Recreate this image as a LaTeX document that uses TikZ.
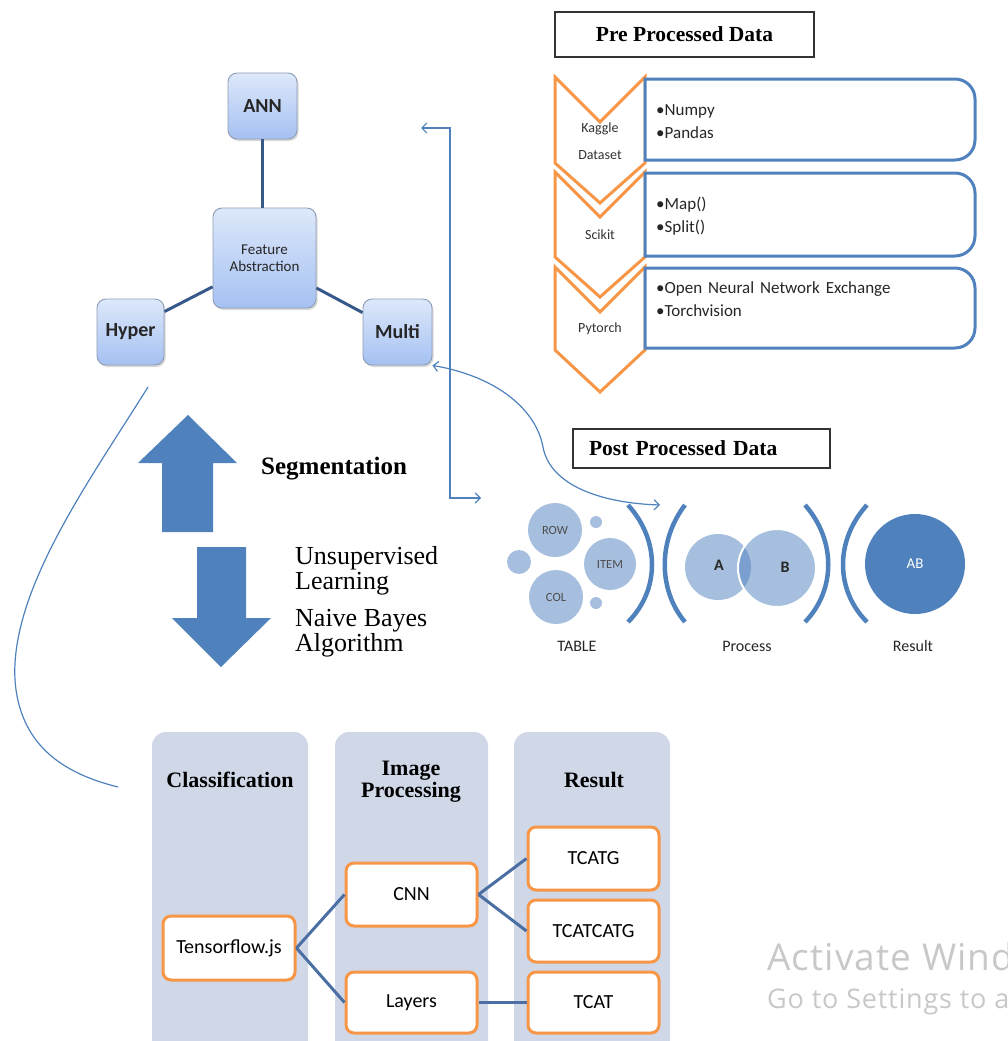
\documentclass[tikz,border=0pt]{standalone}
\usepackage{fontspec}
\setmainfont{Liberation Serif}
\newfontfamily\carl{Carlito}
\newfontfamily\osans[LetterSpace=3]{Open Sans}
\usetikzlibrary{arrows.meta,shadows}
\definecolor{gtop}{HTML}{DDE8FA}
\definecolor{gbot}{HTML}{A5C1F2}
\definecolor{boxedge}{HTML}{8E9DB6}
\definecolor{linkc}{HTML}{37598A}
\definecolor{orng}{HTML}{F79646}
\definecolor{blu}{HTML}{4F81BD}
\definecolor{lb}{HTML}{A7BFDE}
\definecolor{midb}{HTML}{7B9FCF}
\definecolor{colf}{HTML}{D0D8E8}
\definecolor{linkb}{HTML}{4B6FA3}
\definecolor{wm}{HTML}{C8C8C8}
\begin{document}
\begin{tikzpicture}[x=1pt,y=-1pt,
  fbox/.style={draw=boxedge, line width=0.9pt, rounded corners=9pt, top color=gtop, bottom color=gbot,
    drop shadow={shadow xshift=1.5pt, shadow yshift=-2pt, opacity=0.3}, inner sep=0pt,
    font=\carl\bfseries\fontsize{20}{22}\selectfont, text=black!85},
  link/.style={draw=linkc, line width=3pt},
  chev/.style={draw=orng, line width=3pt, line join=miter, fill=white},
  bluebox/.style={draw=blu, line width=3pt, fill=white},
  chevlab/.style={font=\carl\fontsize{14}{16}\selectfont, text=black!80},
  bul/.style={anchor=base west, inner sep=0pt, font=\carl\fontsize{17}{19}\selectfont, text=black!85},
  titlebox/.style={draw=black!80, line width=2pt, fill=white, inner sep=0pt, font=\bfseries\fontsize{21.5}{24}\selectfont},
  thinc/.style={draw=blu, line width=1.2pt},
  >={Straight Barb[length=5pt,width=10pt]},
  circ/.style={circle, fill=lb, inner sep=0pt, font=\carl\fontsize{12.5}{14}\selectfont, text=black!70},
  paren/.style={draw=blu, line width=4.5pt},
  lab/.style={font=\carl\fontsize{16}{18}\selectfont, text=black!85},
  bigtxt/.style={anchor=base west, inner sep=0pt, align=left, font=\fontsize{26}{24}\selectfont},
  coltitle/.style={font=\bfseries\fontsize{22}{23}\selectfont, align=center},
  obox/.style={draw=orng, line width=3pt, fill=white, rounded corners=8pt, inner sep=0pt,
    font=\carl\fontsize{20}{22}\selectfont},
  blink/.style={draw=linkb, line width=3pt}
]
\useasboundingbox (0,0) rectangle (1008,1041);
\clip (0,0) rectangle (1008,1041);

% ---------- feature cluster ----------
\node[fbox, minimum width=69, minimum height=66] (ann) at (262.5,106) {ANN};
\node[fbox, minimum width=103, minimum height=100, align=center,
      font=\carl\fontsize{15}{17}\selectfont] (fa) at (264.5,258) {Feature\\Abstraction};
\node[fbox, minimum width=67, minimum height=66] (hyper) at (130.5,332) {Hyper};
\node[fbox, minimum width=69, minimum height=66] (multi) at (397.5,332) {Multi};
\draw[link] (ann.south) -- (ann.south |- fa.north);
\draw[link] (fa.209) -- (hyper.31);
\draw[link] (fa.330) -- (multi.151);

% ---------- pre processed data ----------
\node[titlebox, minimum width=259, minimum height=45] (pre) at (684.5,34.5) {Pre Processed Data};

\draw[chev] (555,77) -- (600,122) -- (645,77) -- (645,163) -- (600,203) -- (555,163) -- cycle;
\draw[chev] (555,172) -- (600,217) -- (645,172) -- (645,257) -- (600,297) -- (555,257) -- cycle;
\draw[chev] (555,267) -- (600,312) -- (645,267) -- (645,350) -- (600,392) -- (555,350) -- cycle;

\draw[bluebox] (645,79) -- (955,79) arc[start angle=270,end angle=360,radius=20] -- (975,140)
   arc[start angle=0,end angle=90,radius=20] -- (645,160) -- cycle;
\draw[bluebox] (645,173) -- (955,173) arc[start angle=270,end angle=360,radius=20] -- (975,236)
   arc[start angle=0,end angle=90,radius=20] -- (645,256) -- cycle;
\draw[bluebox] (645,268) -- (955,268) arc[start angle=270,end angle=360,radius=20] -- (975,328)
   arc[start angle=0,end angle=90,radius=20] -- (645,348) -- cycle;

\node[chevlab] (kag) at (600,129) {Kaggle};
\node[chevlab] (dat) at (600,155) {Dataset};
\node[chevlab] (sci) at (600,235) {Scikit};
\node[chevlab] (pyt) at (600,329) {Pytorch};

\node[bul] (b1) at (656,115) {•Numpy};
\node[bul] (b2) at (656,138) {•Pandas};
\node[bul] (b3) at (656,209) {•Map()};
\node[bul] (b4) at (656,232) {•Split()};
\node[bul] (b5) at (656,293) {•Open\hspace{0.35em}Neural\hspace{0.35em}Network\hspace{0.35em}Exchange};
\node[bul] (b6) at (656,316) {•Torchvision};

% ---------- post processed data ----------
\node[titlebox, minimum width=257, minimum height=39, text width=225pt, align=left, inner xsep=16pt]
   (post) at (701.5,448.5) {Post Processed Data};

\node[circ, minimum size=54pt] (row) at (555,530) {ROW};
\node[circ, minimum size=12pt] (s1) at (596,522) {};
\node[circ, minimum size=24pt] (s2) at (519,562) {};
\node[circ, minimum size=52pt] (item) at (610,564) {ITEM};
\node[circ, minimum size=54pt] (col) at (556,597) {COL};
\node[circ, minimum size=12pt] (s3) at (596,603) {};

\draw[paren] (628,505) .. controls (660,540) and (660,590) .. (628,622);
\draw[paren] (685,505) .. controls (658,540) and (658,590) .. (685,622);
\draw[paren] (805,505) .. controls (836,540) and (836,590) .. (805,622);
\draw[paren] (867,505) .. controls (835,540) and (835,590) .. (867,622);

\node[circle, fill=lb, minimum size=66pt, inner sep=0pt] (ca) at (718,567) {};
\node[circle, fill=lb, minimum size=78pt, inner sep=0pt] (cb) at (777,568) {};
\begin{scope}
  \clip (718,567) circle[radius=33];
  \fill[midb] (777,568) circle[radius=39];
\end{scope}
\draw[white, line width=2pt] (777,568) circle[radius=39];
\node[font=\carl\bfseries\fontsize{16}{18}\selectfont, text=black!85] (ta) at (719,565) {A};
\node[font=\carl\bfseries\fontsize{16}{18}\selectfont, text=black!85] (tb) at (785,567) {B};
\node[circle, fill=blu, minimum size=100pt, inner sep=0pt, text=white,
      font=\carl\fontsize{15}{17}\selectfont] (cab) at (915,564) {AB};

\node[lab] (ltab) at (577,646) {TABLE};
\node[lab] (lpro) at (747,646) {Process};
\node[lab] (lres) at (913,646) {Result};

% ---------- thin connectors ----------
\coordinate (c1a) at (421,128);
\coordinate (c1b) at (481,498);
\draw[thinc, <->] (c1a) -- ++(29,0) |- (c1b);
\coordinate (c2b) at (660,505);
\draw[thinc, <->] (multi.south east) .. controls (490,375) and (535,405) .. (543,447)
   .. controls (550,485) and (600,503) .. (c2b);
\coordinate (c3a) at (148,387);
\coordinate (c3b) at (118,787);
\draw[thinc] (c3a) .. controls (90,480) and (10,590) .. (15,680)
   .. controls (20,750) and (70,775) .. (c3b);

% ---------- block arrows ----------
\fill[blu] (188,415) -- (237,463) -- (213,463) -- (213,532) -- (162,532) -- (162,463) -- (138,463) -- cycle;
\fill[blu] (197,547) -- (246,547) -- (246,618) -- (271,618) -- (221,667) -- (172,618) -- (197,618) -- cycle;

\node[bigtxt, font=\bfseries\fontsize{25}{27}\selectfont] (seg) at (261,474) {Segmentation};
\node[bigtxt, font=\fontsize{26}{25}\selectfont] (uns) at (295,589) {Unsupervised\\Learning};
\node[bigtxt, font=\fontsize{26}{23.5}\selectfont] (nai) at (295,651) {Naive Bayes\\Algorithm};

% ---------- bottom columns ----------
\fill[colf, rounded corners=14pt] (152,732) rectangle (308,1075);
\fill[colf, rounded corners=14pt] (335,732) rectangle (488,1075);
\fill[colf, rounded corners=14pt] (514,732) rectangle (670,1075);

\node[coltitle, anchor=base] (tcls) at (230,787) {Classification};
\node[coltitle, anchor=base] (timg1) at (411,775) {Image};
\node[coltitle, anchor=base] (timg2) at (411,797) {Processing};
\node[coltitle, anchor=base] (tres) at (594,787) {Result};

\node[obox, minimum width=132, minimum height=64] (tf) at (229,948) {Tensorflow.js};
\node[obox, minimum width=131, minimum height=63] (cnn) at (411.5,894.5) {CNN};
\node[obox, minimum width=131, minimum height=61] (lay) at (411.5,1002.5) {Layers};
\node[obox, minimum width=131, minimum height=63] (r1) at (593.5,858.5) {TCATG};
\node[obox, minimum width=131, minimum height=62] (r2) at (593.5,931) {TCATCATG};
\node[obox, minimum width=131, minimum height=61] (r3) at (593.5,1002.5) {TCAT};

\draw[blink] (tf.east) -- (cnn.west);
\draw[blink] (tf.east) -- (lay.west);
\draw[blink] (cnn.east) -- (r1.west);
\draw[blink] (cnn.east) -- (r2.west);
\draw[blink] (lay.east) -- (r3.west);

% ---------- watermark ----------
\node[anchor=base west, inner sep=0pt, text=wm, font=\osans\fontsize{37}{40}\selectfont] (wm1) at (767,970) {Activate Windows};
\node[anchor=base west, inner sep=0pt, text=wm, font=\osans\fontsize{27}{29}\selectfont] (wm2) at (767,1008) {Go to Settings to activate Windows.};
\end{tikzpicture}
\end{document}
